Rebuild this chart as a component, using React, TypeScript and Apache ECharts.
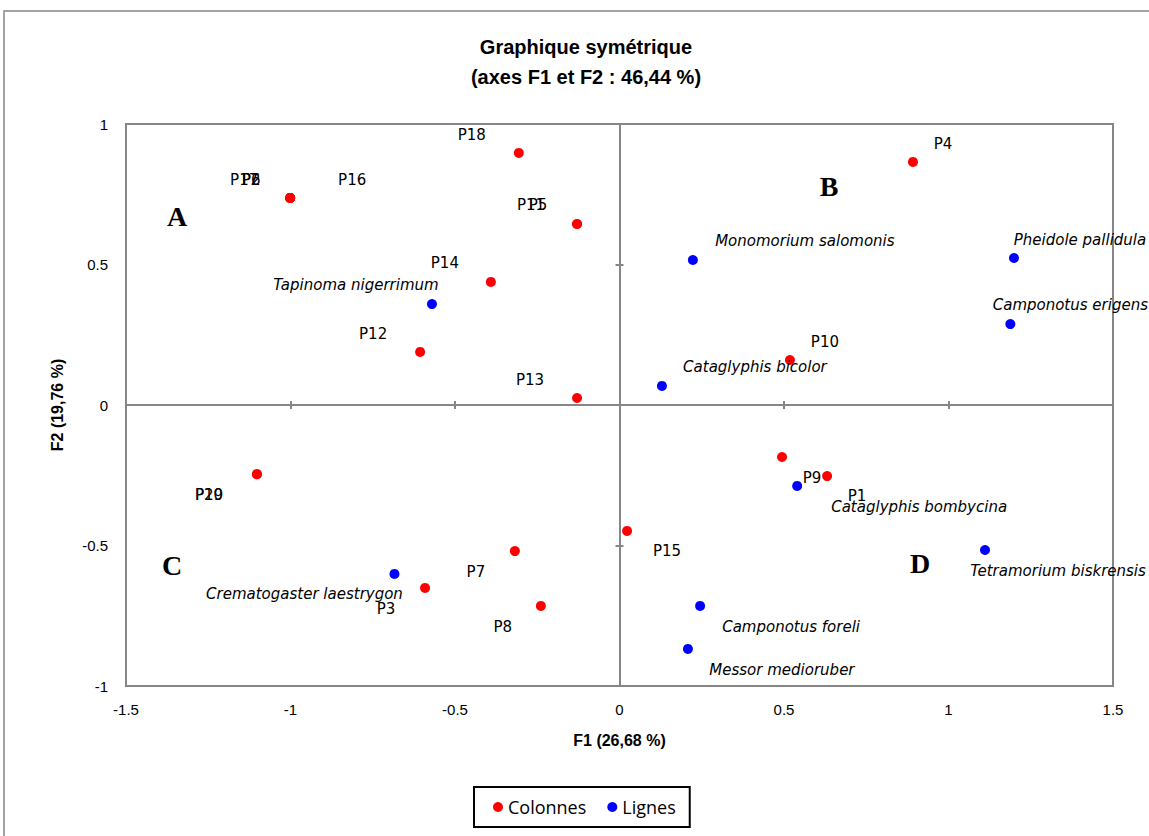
import React, { useEffect, useRef } from "react";
import * as echarts from "echarts";

// Colonnes (red)
const colNames = ["P4", "P18", "P17", "P6", "P2", "P16", "P11", "P5", "P14", "P12", "P13", "P10", "P20", "P19", "P9", "P1", "P15", "P7", "P3", "P8"];
const colX = [0.892, -0.306, -1.001, -1.001, -1.001, -1.001, -0.129, -0.129, -0.391, -0.606, -0.129, 0.518, -1.102, -1.102, 0.494, 0.631, 0.023, -0.318, -0.591, -0.239];
const colY = [0.865, 0.897, 0.737, 0.737, 0.737, 0.737, 0.644, 0.644, 0.438, 0.189, 0.025, 0.160, -0.246, -0.246, -0.185, -0.253, -0.448, -0.520, -0.651, -0.715];

// Lignes (blue)
const rowNames = ["Monomorium salomonis", "Pheidole pallidula", "Camponotus erigens", "Tapinoma nigerrimum", "Cataglyphis bicolor", "Cataglyphis bombycina", "Tetramorium biskrensis", "Crematogaster laestrygon", "Camponotus foreli", "Messor medioruber"];
const rowX = [0.223, 1.199, 1.188, -0.570, 0.129, 0.540, 1.111, -0.684, 0.245, 0.208];
const rowY = [0.516, 0.523, 0.288, 0.359, 0.068, -0.288, -0.516, -0.601, -0.715, -0.868];

const xTicks = { min: -1.5, max: 1.5, interval: 0.5 };
const yTicks = { min: -1, max: 1, interval: 0.5 };

// label layout (offset of label centre from point, px)
const colLabelOffsets: [number, number][] = [
  [30, -18], [-47, -18], [-46, -18], [-39, -18], [-39, -18], [62, -18], [-46, -19], [-39, -19], [-46, -19], [-47, -18],
  [-47, -18], [35, -18], [-48, 21], [-48, 21], [30, 21], [30, 20], [40, 20], [-39, 21], [-39, 21], [-38, 21],
];
const rowLabelOffsets: [number, number][] = [
  [112, -19], [66, -18], [60, -19], [-76, -19], [93, -19], [122, 21], [73, 21], [-90, 20], [91, 21], [94, 21],
];

const GREY = "#868686";
const LABEL_FONT = "'DejaVu Sans', Verdana, sans-serif";
const LEGEND_FONT = "'Open Sans', 'DejaVu Sans', sans-serif";
const AXIS_FONT = "'Liberation Sans', Arial, sans-serif";

export default function App() {
  const ref = useRef<HTMLDivElement>(null);
  useEffect(() => {
    if (!ref.current) return;
    const chart = echarts.init(ref.current, undefined, { renderer: "svg" });

    const colData = colNames.map((n, i) => ({
      name: n,
      value: [colX[i], colY[i]],
      label: { offset: colLabelOffsets[i] },
    }));
    const rowData = rowNames.map((n, i) => ({
      name: n,
      value: [rowX[i], rowY[i]],
      label: { offset: rowLabelOffsets[i] },
    }));

    const zeroAxis = (t: any, inside: boolean) => ({
      type: "value",
      min: t.min,
      max: t.max,
      interval: t.interval,
      axisLine: { show: inside, onZero: true, lineStyle: { color: GREY, width: 2 } },
      axisTick: { show: true, inside, length: 4, lineStyle: { color: GREY, width: 2 } },
      axisLabel: { show: false },
      splitLine: { show: false },
    });

    const labelBase = {
      show: true,
      position: "inside",
      formatter: "{b}",
      fontFamily: LABEL_FONT,
      fontSize: 15,
      color: "#000",
      opacity: 1,
      textBorderWidth: 0,
    };

    chart.setOption({
      animation: false,
      backgroundColor: "#fff",
      title: {
        text: "Graphique symétrique\n(axes F1 et F2 : 46,44 %)",
        left: 581,
        top: 27,
        textAlign: "center",
        textStyle: { fontFamily: AXIS_FONT, fontWeight: "bold", fontSize: 20, lineHeight: 30, color: "#000" },
      },
      legend: {
        left: 474,
        top: 787,
        data: ["Colonnes", "Lignes"],
        icon: "circle",
        itemWidth: 10,
        itemHeight: 10,
        itemGap: 21,
        padding: [11, 14, 11, 19],
        borderColor: "#000",
        borderWidth: 2,
        textStyle: { fontFamily: LEGEND_FONT, fontSize: 18, color: "#000" },
      },
      grid: {
        left: 126,
        top: 124,
        right: 36,
        bottom: 150,
        show: true,
        borderColor: GREY,
        borderWidth: 2,
      },
      xAxis: [
        {
          type: "value",
          min: xTicks.min,
          max: xTicks.max,
          interval: xTicks.interval,
          position: "bottom",
          axisLine: { show: false, onZero: false },
          axisTick: { show: false },
          splitLine: { show: false },
          axisLabel: { fontFamily: AXIS_FONT, fontSize: 15, color: "#000", margin: 16 },
          name: "F1 (26,68 %)",
          nameLocation: "middle",
          nameGap: 46,
          nameTextStyle: { fontFamily: AXIS_FONT, fontWeight: "bold", fontSize: 16, color: "#000" },
        },
        { ...zeroAxis(xTicks, true), position: "bottom" },
        { ...zeroAxis(xTicks, false), position: "bottom" },
      ],
      yAxis: [
        {
          type: "value",
          min: yTicks.min,
          max: yTicks.max,
          interval: yTicks.interval,
          position: "left",
          axisLine: { show: false, onZero: false },
          axisTick: { show: false },
          splitLine: { show: false },
          axisLabel: { fontFamily: AXIS_FONT, fontSize: 15, color: "#000", margin: 18 },
          name: "F2 (19,76 %)",
          nameLocation: "middle",
          nameGap: 61,
          nameTextStyle: { fontFamily: AXIS_FONT, fontWeight: "bold", fontSize: 16, color: "#000" },
        },
        { ...zeroAxis(yTicks, true), position: "left" },
        { ...zeroAxis(yTicks, false), position: "left" },
      ],
      series: [
        {
          name: "Colonnes",
          type: "scatter",
          symbol: "circle",
          symbolSize: 10,
          itemStyle: { color: "#ff0000", opacity: 1 },
          data: colData,
          label: { ...labelBase },
          z: 5,
        },
        {
          name: "Lignes",
          type: "scatter",
          symbol: "circle",
          symbolSize: 10,
          itemStyle: { color: "#0000ff", opacity: 1 },
          data: rowData,
          label: { ...labelBase, fontStyle: "italic" },
          z: 5,
        },
      ],
      graphic: [
        {
          type: "rect",
          shape: { x: 4, y: 11, width: 1300, height: 1000 },
          style: { fill: "none", stroke: GREY, lineWidth: 1.5 },
          silent: true,
          z: -1,
        },
        ...[
          ["A", 177, 216],
          ["B", 829, 186],
          ["C", 172, 565],
          ["D", 920, 563],
        ].map(([t, x, y]) => ({
          type: "text",
          x: x as number,
          y: y as number,
          style: {
            text: t as string,
            align: "center",
            verticalAlign: "middle",
            fontFamily: "'Liberation Serif', 'DejaVu Serif', serif",
            fontWeight: "bold",
            fontSize: 28,
            fill: "#000",
          },
          silent: true,
        })),
      ],
    });
    return () => chart.dispose();
  }, []);
  return (
    <div
      ref={ref}
      style={{ position: "fixed", left: 0, top: 0, width: 1149, height: 836 }}
    />
  );
}
